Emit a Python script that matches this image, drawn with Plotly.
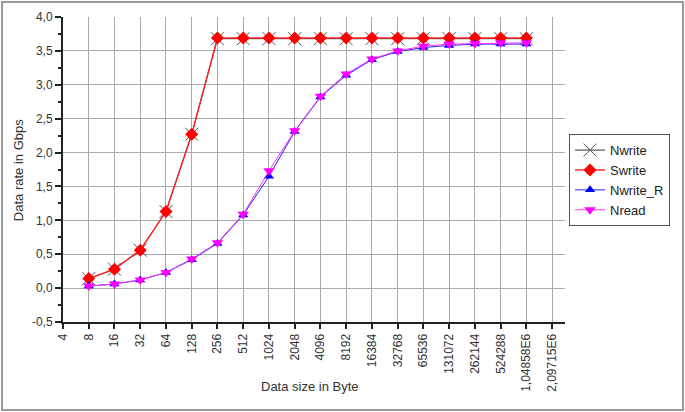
import plotly.graph_objects as go

sizes = [8, 16, 32, 64, 128, 256, 512, 1024, 2048, 4096, 8192, 16384,
         32768, 65536, 131072, 262144, 524288, 1048576]
nwrite = [0.14, 0.28, 0.56, 1.13, 2.27, 3.68, 3.68, 3.68, 3.68, 3.68, 3.68,
          3.68, 3.68, 3.68, 3.68, 3.68, 3.68, 3.68]
swrite = [0.14, 0.28, 0.56, 1.13, 2.27, 3.69, 3.69, 3.69, 3.69, 3.69, 3.69,
          3.69, 3.69, 3.69, 3.69, 3.69, 3.69, 3.69]
nwrite_r = [0.03, 0.06, 0.12, 0.23, 0.42, 0.66, 1.08, 1.65, 2.31, 2.82, 3.14,
            3.37, 3.49, 3.55, 3.58, 3.60, 3.60, 3.60]
nread = [0.03, 0.06, 0.12, 0.23, 0.43, 0.67, 1.09, 1.73, 2.32, 2.83, 3.16,
         3.38, 3.50, 3.57, 3.60, 3.61, 3.62, 3.62]

x_tickvals = [4, 8, 16, 32, 64, 128, 256, 512, 1024, 2048, 4096, 8192, 16384,
              32768, 65536, 131072, 262144, 524288, 1048576, 2097152]
x_ticktext = ["4", "8", "16", "32", "64", "128", "256", "512", "1024", "2048",
              "4096", "8192", "16384", "32768", "65536", "131072", "262144",
              "524288", "1,04858E6", "2,09715E6"]
y_tickvals = [-0.5, 0.0, 0.5, 1.0, 1.5, 2.0, 2.5, 3.0, 3.5, 4.0]
y_ticktext = ["-0,5", "0,0", "0,5", "1,0", "1,5", "2,0", "2,5", "3,0", "3,5", "4,0"]

fig = go.Figure()
fig.add_trace(go.Scatter(x=sizes, y=nwrite, name="Nwrite", mode="lines+markers",
                         line=dict(color="#333333", width=1),
                         marker=dict(symbol="x-thin", size=13,
                                     line=dict(color="#555555", width=1))))
fig.add_trace(go.Scatter(x=sizes, y=swrite, name="Swrite", mode="lines+markers",
                         line=dict(color="#ff2020", width=1.4),
                         marker=dict(symbol="diamond", size=10, color="#ff0000")))
fig.add_trace(go.Scatter(x=sizes, y=nwrite_r, name="Nwrite_R", mode="lines+markers",
                         line=dict(color="#2020ff", width=1),
                         marker=dict(symbol="triangle-up", size=9, color="#0000ff")))
fig.add_trace(go.Scatter(x=sizes, y=nread, name="Nread", mode="lines+markers",
                         line=dict(color="#ff30ff", width=1),
                         marker=dict(symbol="triangle-down", size=10, color="#ff00ff")))

fig.update_layout(
    width=685, height=412,
    margin=dict(l=63, r=120, t=17, b=90),
    paper_bgcolor="white", plot_bgcolor="white",
    font=dict(family="Liberation Sans, Arial, sans-serif", size=12, color="#333333"),
    showlegend=True,
    legend=dict(x=1.008, y=0.616, xanchor="left", yanchor="top",
                bordercolor="#555555", borderwidth=1, bgcolor="white",
                font=dict(size=13, color="#222222"), tracegroupgap=0),
    shapes=[dict(type="rect", xref="paper", yref="paper",
                 x0=-0.1215, x1=1.235, y0=-0.2885, y1=1.049,
                 line=dict(color="#999999", width=2), layer="below")],
    annotations=[
        dict(text="Data size in Byte", xref="paper", yref="paper", x=0.492, y=-0.21,
             xanchor="center", yanchor="middle", showarrow=False,
             font=dict(size=13, color="#333333")),
        dict(text="Data rate in Gbps", xref="paper", yref="paper", x=-0.0896, y=0.498,
             xanchor="center", yanchor="middle", textangle=-90, showarrow=False,
             font=dict(size=13, color="#333333")),
    ],
)
fig.update_xaxes(type="log", range=[0.60206, 6.4721], automargin=False,
                 tickmode="array", tickvals=x_tickvals, ticktext=x_ticktext,
                 tickangle=-90, ticks="outside", ticklen=5, tickwidth=2, tickcolor="#222222",
                 tickfont=dict(size=12),
                 showline=True, linecolor="#222222", linewidth=2,
                 showgrid=True, gridcolor="#aaaaaa", gridwidth=1, zeroline=False)
fig.update_yaxes(range=[-0.5, 4.0], automargin=False,
                 tickmode="array", tickvals=y_tickvals, ticktext=y_ticktext,
                 ticks="outside", ticklen=6, tickwidth=2, tickcolor="#222222",
                 tickfont=dict(size=12),
                 minor=dict(dtick=0.25, ticks="outside", ticklen=3, tickcolor="#222222", showgrid=False),
                 showline=True, linecolor="#222222", linewidth=2,
                 showgrid=True, gridcolor="#aaaaaa", gridwidth=1, zeroline=False)

fig.write_html("out.html", config={"displayModeBar": False},
               post_script="document.body.style.margin='0';")
